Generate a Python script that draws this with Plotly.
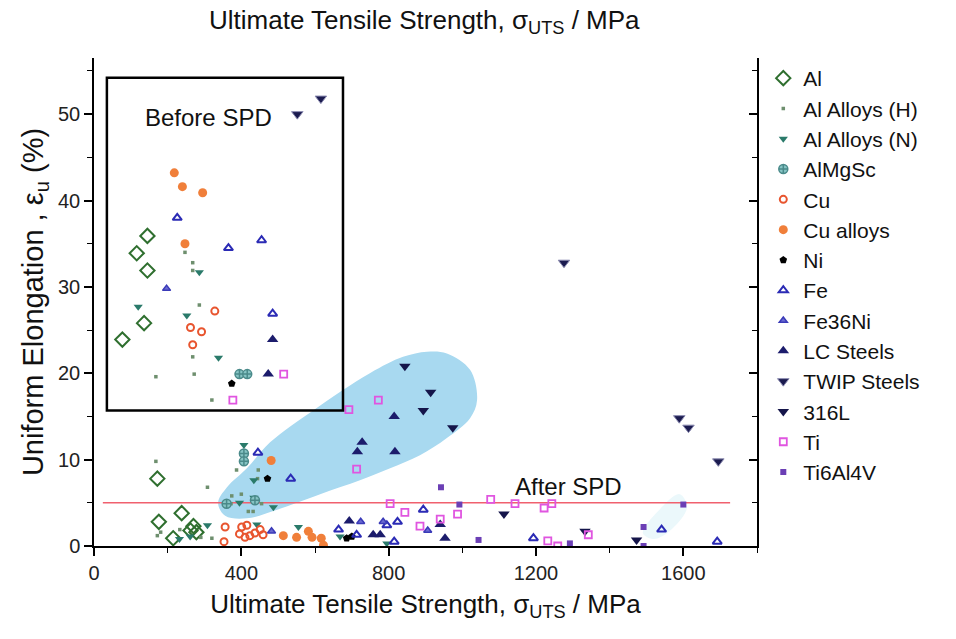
import plotly.graph_objects as go

# ---------------- data ----------------
al_x = [77, 116, 136, 145, 145, 172, 176, 215, 238, 262, 270, 278]
al_y = [23.9, 33.9, 25.8, 35.9, 31.9, 7.8, 2.8, 0.9, 3.8, 1.8, 2.3, 1.6]

alh_x = [247, 268, 268, 286, 268, 168, 272, 320, 168, 308, 387, 446, 444, 374, 372, 419, 432, 455, 320, 172, 181, 233, 290, 400]
alh_y = [34.0, 32.8, 31.9, 27.9, 21.9, 19.6, 19.9, 16.9, 9.8, 6.8, 8.8, 8.8, 7.8, 5.8, 4.9, 4.0, 4.0, 4.9, 0.9, 1.2, 1.6, 1.9, 1.0, 6.0]

aln_x = [286, 120, 252, 338, 407, 434, 434, 487, 442, 308, 261, 232, 555, 668, 795, 395]
aln_y = [31.7, 27.7, 26.7, 21.8, 11.7, 7.6, 5.6, 4.5, 2.5, 2.4, 1.1, 0.8, 2.2, 1.1, 0.3, 5.0]

almgsc_x = [395, 416, 407, 407, 360, 437]
almgsc_y = [19.9, 19.9, 10.7, 9.8, 4.9, 5.3]

cu_x = [328, 262, 292, 268, 356, 353, 401, 415, 410, 423, 437, 451, 459, 395]
cu_y = [27.2, 25.3, 24.8, 23.3, 2.2, 0.5, 2.2, 2.4, 1.0, 1.2, 1.5, 1.9, 1.3, 1.4]

cua_x = [218, 240, 295, 247, 481, 514, 550, 582, 592, 617, 623]
cua_y = [43.2, 41.6, 40.9, 35.0, 9.9, 1.2, 1.0, 1.7, 1.0, 0.9, 0.1]

ni_x = [374, 471, 686, 700]
ni_y = [18.8, 7.8, 0.9, 1.1]

fe_x = [226, 365, 455, 485, 445, 534, 824, 894, 815, 1193, 1541, 1692, 795, 664, 713]
fe_y = [38.0, 34.5, 35.4, 26.9, 10.8, 7.8, 2.8, 4.2, 0.5, 0.9, 1.9, 0.5, 2.4, 1.9, 1.3]

fe36_x = [197, 724, 785, 906, 482]
fe36_y = [29.8, 2.8, 2.8, 1.8, 1.7]

lc_x = [485, 473, 815, 728, 715, 817, 693, 758, 777, 953, 940]
lc_y = [23.9, 19.9, 15.0, 12.0, 10.9, 10.9, 2.9, 1.3, 1.3, 0.9, 2.5]

twip_x = [552, 616, 1276, 1589, 1614, 1695]
twip_y = [50.0, 51.8, 32.8, 14.8, 13.7, 9.8]

l316_x = [844, 914, 894, 974, 1113, 1333, 1473]
l316_y = [20.8, 17.8, 15.7, 13.7, 3.7, 1.7, 0.7]

ti_x = [515, 377, 692, 772, 713, 804, 844, 885, 940, 987, 1077, 1143, 1222, 1243, 1232, 1259, 1342]
ti_y = [19.9, 16.9, 15.8, 16.9, 8.9, 4.9, 3.9, 2.3, 3.1, 3.7, 5.4, 4.9, 4.4, 4.9, 0.6, 0.0, 1.3]

ti64_x = [942, 992, 1044, 1292, 1492, 1492, 1600]
ti64_y = [6.8, 4.8, 0.7, 0.3, 2.2, 0.0, 4.8]

# region outlines (decorative highlight areas)
blob_x = [337, 361, 415, 478, 595, 749, 839, 904, 958, 1021, 1040, 1021, 958, 885, 804, 722, 614, 497, 415, 356, 337]
blob_y = [5.0, 6.8, 9.0, 12.0, 15.7, 20.0, 21.9, 22.5, 22.3, 20.4, 16.9, 14.8, 12.5, 10.5, 9.0, 7.6, 6.0, 4.2, 3.2, 3.5, 5.0]
blob2_x = [1490, 1520, 1570, 1610, 1590, 1535, 1490]
blob2_y = [1.5, 0.8, 2.0, 4.5, 6.0, 4.2, 1.5]

before_box_x = [35, 676]
before_box_y = [15.7, 54.2]
spd_line_x = [24, 1727]
spd_line_y = 5

x_ticks = [0, 400, 800, 1200, 1600]
y_ticks = [0, 10, 20, 30, 40, 50]

FONT = "Liberation Sans, Arial, sans-serif"

fig = go.Figure()

fig.add_trace(go.Scatter(x=blob_x, y=blob_y, mode="lines", fill="toself",
                         line=dict(shape="spline", width=0, color="#a8d9f0"),
                         fillcolor="#a8d9f0", showlegend=False, hoverinfo="skip"))
fig.add_trace(go.Scatter(x=blob2_x, y=blob2_y, mode="lines", fill="toself",
                         line=dict(shape="spline", width=0, color="rgba(190,232,242,0.3)"),
                         fillcolor="rgba(190,232,242,0.3)", showlegend=False, hoverinfo="skip"))

# horizontal SPD line
fig.add_trace(go.Scatter(x=spd_line_x, y=[spd_line_y, spd_line_y], mode="lines",
                         line=dict(color="#f0606e", width=1.6), showlegend=False, hoverinfo="skip"))

series = [
    ("Al", al_x, al_y, dict(symbol="diamond-open", size=11, color="#2f6f2f", line=dict(width=2, color="#2f6f2f"))),
    ("Al Alloys (H)", alh_x, alh_y, dict(symbol="square", size=3.5, color="#6e8f6e")),
    ("Al Alloys (N)", aln_x, aln_y, dict(symbol="triangle-down", size=8, color="#2a7a6a")),
    ("AlMgSc", almgsc_x, almgsc_y, dict(symbol="circle-cross", size=9, color="#86c4c4", line=dict(width=1.5, color="#4a8a8a"))),
    ("Cu", cu_x, cu_y, dict(symbol="circle-open", size=7, color="#e8552f", line=dict(width=2, color="#e8552f"))),
    ("Cu alloys", cua_x, cua_y, dict(symbol="circle", size=9, color="#f07f3a")),
    ("Ni", ni_x, ni_y, dict(symbol="pentagon", size=8, color="#000000")),
    ("Fe", fe_x, fe_y, dict(symbol="triangle-up-open", size=8, color="#2b2bb5", line=dict(width=2, color="#2b2bb5"))),
    ("Fe36Ni", fe36_x, fe36_y, dict(symbol="triangle-up", size=7, color="#6a6ad0", line=dict(width=1.5, color="#3a3ab8"))),
    ("LC Steels", lc_x, lc_y, dict(symbol="triangle-up", size=10, color="#1c1c6c")),
    ("TWIP Steels", twip_x, twip_y, dict(symbol="triangle-down", size=10, color="#1b1b4f", line=dict(width=1, color="#8a8ab0"))),
    ("316L", l316_x, l316_y, dict(symbol="triangle-down", size=10, color="#15154a")),
    ("Ti", ti_x, ti_y, dict(symbol="square-open", size=7, color="#e055e0", line=dict(width=1.8, color="#e055e0"))),
    ("Ti6Al4V", ti64_x, ti64_y, dict(symbol="square", size=6, color="#6b3fb5")),
]
for name, xs, ys, mk in series:
    fig.add_trace(go.Scatter(x=xs, y=ys, mode="markers", name=name, marker=mk))

# invisible trace to anchor the right mirror axis
fig.add_trace(go.Scatter(x=[None], y=[None], yaxis="y2", showlegend=False, hoverinfo="skip"))

fig.add_shape(type="rect", xref="x", yref="y", x0=before_box_x[0], x1=before_box_x[1],
              y0=before_box_y[0], y1=before_box_y[1], line=dict(color="black", width=2.5))

fig.add_annotation(x=310, y=49.6, xref="x", yref="y", text="Before SPD", showarrow=False,
                   font=dict(family=FONT, size=24, color="#111"))
fig.add_annotation(x=1287, y=6.9, xref="x", yref="y", text="After SPD", showarrow=False,
                   font=dict(family=FONT, size=24, color="#111"))
fig.add_annotation(x=0.498, y=1.075, xref="paper", yref="paper",
                   text="Ultimate Tensile Strength, σ<sub>UTS</sub> / MPa", showarrow=False,
                   font=dict(family=FONT, size=26, color="#111"), yanchor="middle")

axis_common = dict(showgrid=False, zeroline=False, showline=True, linecolor="black", linewidth=1.5,
                   tickcolor="black", tickwidth=1.5, ticklen=8,
                   tickfont=dict(family=FONT, size=20, color="#222"))

fig.update_layout(
    width=956, height=639,
    margin=dict(l=94, r=199, t=58, b=93),
    plot_bgcolor="white", paper_bgcolor="white",
    font=dict(family=FONT, color="#111"),
    xaxis=dict(range=[0, 1800], tickmode="array", tickvals=x_ticks, ticks="outside",
               minor=dict(dtick=200, ticks="outside", ticklen=5, tickcolor="black", tickwidth=1.2),
               title=dict(text="Ultimate Tensile Strength, σ<sub>UTS</sub> / MPa",
                          font=dict(family=FONT, size=26, color="#111"), standoff=12),
               **axis_common),
    yaxis=dict(range=[0, 56.5], tickmode="array", tickvals=y_ticks, ticks="outside",
               minor=dict(dtick=5, ticks="outside", ticklen=5, tickcolor="black", tickwidth=1.2),
               title=dict(text="Uniform Elongation , ε<sub>u</sub> (%)",
                          font=dict(family=FONT, size=29, color="#111"), standoff=6),
               **axis_common),
    yaxis2=dict(range=[0, 56.5], overlaying="y", side="right", tickmode="array", tickvals=y_ticks,
                ticks="inside", showticklabels=False,
                minor=dict(dtick=5, ticks="inside", ticklen=5, tickcolor="black", tickwidth=1.2),
                **axis_common),
    legend=dict(x=1.0095, y=1.0, xanchor="left", yanchor="top",
                font=dict(family=FONT, size=21, color="#111"),
                bgcolor="rgba(0,0,0,0)"),
)

fig.write_html("out.html")
